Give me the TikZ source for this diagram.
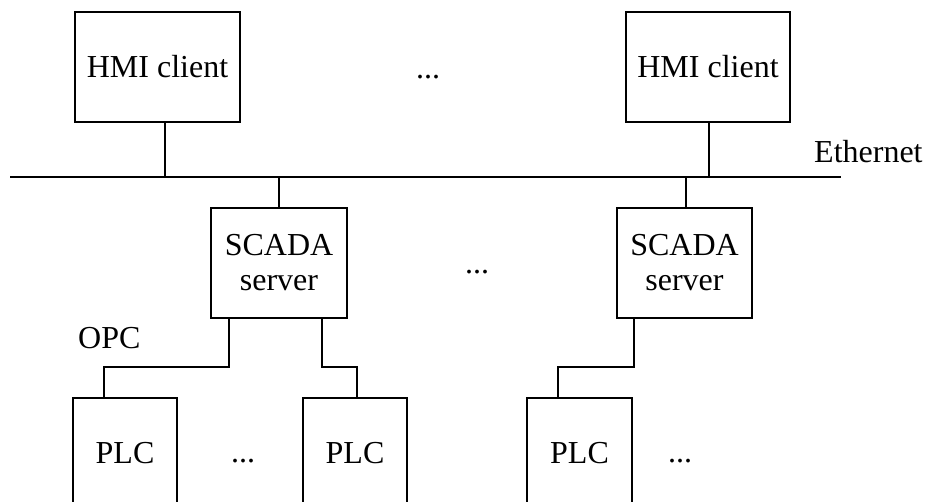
\documentclass[tikz,border=0pt]{standalone}
\usepackage{fontspec}
\setmainfont{Liberation Serif}
\usetikzlibrary{positioning}
\tikzset{
  unit/.style={draw, line width=2.8pt, minimum height=110pt, align=center,
    inner sep=0pt, font=\fontsize{32}{35}\selectfont},
  link/.style={line width=1.3pt},
  lbl/.style={inner sep=0pt, font=\fontsize{32}{35}\selectfont}
}

\begin{document}
\begin{tikzpicture}[x=1pt,y=1pt]
	\clip (0,0) rectangle (929,502);
	\node[unit, minimum width=165pt] (hmi1) at (157.5,435) {HMI client};
	\node[unit, minimum width=164pt] (hmi2) at (708,435) {HMI client};
	\node[lbl, anchor=base] (dotsA) at (428,423) {...};
	\coordinate (ethL) at (10,325);
	\coordinate (ethR) at (841,325);
	\node[lbl, anchor=base west] (eth) at (814,339) {Ethernet};
	\node[unit, minimum width=136pt] (scada1) at (279,239) {SCADA\\server};
	\node[unit, minimum width=135pt] (scada2) at (684.5,239) {SCADA\\server};
	\node[lbl, anchor=base] (dotsB) at (477,228) {...};
	\node[lbl, anchor=base west] (opc) at (78,153) {OPC};
	\coordinate (jog) at (0,135);
	\node[unit, minimum width=104pt] (plc1) at (125,49) {PLC};
	\node[unit, minimum width=104pt] (plc2) at (355,49) {PLC};
	\node[unit, minimum width=105pt] (plc3) at (579.5,49) {PLC};
	\node[lbl, anchor=base] (dotsC) at (243,39) {...};
	\node[lbl, anchor=base] (dotsD) at (680,39) {...};
	\draw[link] (ethL) -- (ethR);
	\draw[link] ([xshift=7.5pt]hmi1.south) -- ([xshift=7.5pt]hmi1.south |- ethL);
	\draw[link] ([xshift=1pt]hmi2.south) -- ([xshift=1pt]hmi2.south |- ethL);
	\draw[link] (scada1.north) -- (scada1.north |- ethL);
	\draw[link] ([xshift=1.5pt]scada2.north) -- ([xshift=1.5pt]scada2.north |- ethL);
	\draw[link] ([xshift=-50pt]scada1.south) -- ([xshift=-50pt]scada1.south |- jog) -| ([xshift=-21pt]plc1.north);
	\draw[link] ([xshift=43pt]scada1.south) -- ([xshift=43pt]scada1.south |- jog) -| ([xshift=2pt]plc2.north);
	\draw[link] ([xshift=-50.5pt]scada2.south) -- ([xshift=-50.5pt]scada2.south |- jog) -| ([xshift=-21.5pt]plc3.north);
\end{tikzpicture}
\end{document}
